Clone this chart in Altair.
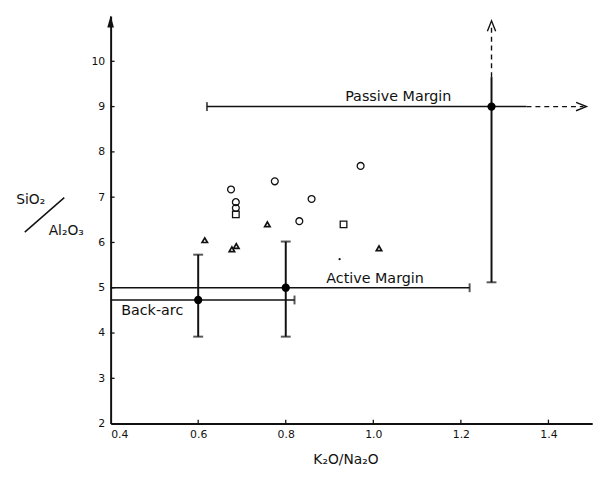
import altair as alt
import pandas as pd

# ---- data ----
circ_x = [0.675, 0.686, 0.686, 0.775, 0.859, 0.971, 0.831]
circ_y = [7.17, 6.89, 6.76, 7.35, 6.96, 7.69, 6.47]
sq_x = [0.686, 0.932]
sq_y = [6.62, 6.40]
tri_x = [0.615, 0.677, 0.687, 0.758, 1.013]
tri_y = [6.05, 5.85, 5.92, 6.40, 5.87]
dot_x = [0.923]
dot_y = [5.63]

# error-bar groups: Back-arc, Active Margin, Passive Margin
grp_name = ["Back-arc", "Active Margin", "Passive Margin"]
grp_x = [0.60, 0.80, 1.27]
grp_y = [4.73, 5.00, 9.00]
grp_ylo = [3.92, 3.92, 5.12]
grp_yhi = [5.73, 6.02, 9.65]
grp_xlo = [0.40, 0.40, 0.62]
grp_xhi = [0.82, 1.22, 1.35]

# horizontal-type caps (ends of vertical bars)
hcap_x = [0.60, 0.60, 0.80, 0.80, 1.27]
hcap_y = [5.73, 3.92, 6.02, 3.92, 5.12]
# vertical-type caps (ends of horizontal bars)
vcap_x = [0.82, 1.22, 0.62]
vcap_y = [4.73, 5.00, 9.00]

# passive margin dashed extensions
dash_h = {"x": [1.35], "x2": [1.48], "y": [9.0]}
dash_v = {"x": [1.27], "y": [9.65], "y2": [10.8]}
arrow_right = {"x": [1.475], "y": [9.0]}
arrow_up = {"x": [1.27], "y": [10.78]}
axis_arrow = {"x": [0.4], "y": [10.88]}

lab_text = ["Passive Margin", "Active Margin", "Back-arc"]
lab_x = [1.057, 1.004, 0.495]
lab_y = [9.22, 5.20, 4.49]

x_ticks = [0.4, 0.6, 0.8, 1.0, 1.2, 1.4]
y_ticks = [2, 3, 4, 5, 6, 7, 8, 9, 10]

FONT = "DejaVu Sans"
INK = "#111111"

xscale = alt.Scale(domain=[0.4, 1.5], nice=False, zero=False)
yscale = alt.Scale(domain=[2, 11], nice=False, zero=False)

xaxis = alt.Axis(values=x_ticks, format=".1f", grid=False, tickSize=0,
                 labelPadding=5, labelFont=FONT, labelFontSize=11, labelColor=INK,
                 domainColor=INK, domainWidth=2, title="K₂O/Na₂O",
                 titleFont=FONT, titleFontSize=14, titleFontWeight="normal",
                 titleColor=INK, titlePadding=13, titleX=238)
yaxis = alt.Axis(values=y_ticks, format="d", grid=False, tickSize=0,
                 labelPadding=6, labelFont=FONT, labelFontSize=11, labelColor=INK,
                 domainColor=INK, domainWidth=2, title=None)


def X(f):
    return alt.X(f, type="quantitative", scale=xscale, axis=xaxis)


def Y(f):
    return alt.Y(f, type="quantitative", scale=yscale, axis=yaxis)


groups = pd.DataFrame({"name": grp_name, "x": grp_x, "y": grp_y, "ylo": grp_ylo,
                       "yhi": grp_yhi, "xlo": grp_xlo, "xhi": grp_xhi})

base_rule = alt.Chart(pd.DataFrame({"x": [0.4], "y": [2]})).mark_point(opacity=0).encode(x=X("x"), y=Y("y"))

vbars = alt.Chart(groups).mark_rule(color=INK, strokeWidth=2).encode(
    x=X("x"), y=Y("ylo"), y2="yhi")
hbars = alt.Chart(groups).mark_rule(color=INK, strokeWidth=1.5).encode(
    x=X("xlo"), x2="xhi", y=Y("y"))
hcaps = alt.Chart(pd.DataFrame({"x": hcap_x, "y": hcap_y})).mark_tick(
    orient="horizontal", color=INK, thickness=2, size=10).encode(x=X("x"), y=Y("y"))
vcaps = alt.Chart(pd.DataFrame({"x": vcap_x, "y": vcap_y})).mark_tick(
    orient="vertical", color=INK, thickness=2, size=9).encode(x=X("x"), y=Y("y"))
centers = alt.Chart(groups).mark_point(filled=True, color="black", size=70, opacity=1).encode(
    x=X("x"), y=Y("y"))

dh = alt.Chart(pd.DataFrame(dash_h)).mark_rule(color=INK, strokeWidth=1.4, strokeDash=[5, 4]).encode(
    x=X("x"), x2="x2", y=Y("y"))
dv = alt.Chart(pd.DataFrame(dash_v)).mark_rule(color=INK, strokeWidth=1.4, strokeDash=[5, 4]).encode(
    x=X("x"), y=Y("y"), y2="y2")
ar = alt.Chart(pd.DataFrame(arrow_right)).mark_point(
    shape="M-1,-0.8L1,0L-1,0.8", filled=False, color=INK, strokeWidth=1.4, size=110, opacity=1).encode(
    x=X("x"), y=Y("y"))
au = alt.Chart(pd.DataFrame(arrow_up)).mark_point(
    shape="M-0.8,1L0,-1L0.8,1", filled=False, color=INK, strokeWidth=1.4, size=110, opacity=1).encode(
    x=X("x"), y=Y("y"))
aa = alt.Chart(pd.DataFrame(axis_arrow)).mark_point(
    shape="M0,-1L0.55,1L-0.55,1Z", filled=True, color=INK, size=150, opacity=1).encode(
    x=X("x"), y=Y("y"))

circ = alt.Chart(pd.DataFrame({"x": circ_x, "y": circ_y})).mark_point(
    shape="circle", filled=False, color=INK, strokeWidth=1.3, size=48, opacity=1).encode(x=X("x"), y=Y("y"))
sq = alt.Chart(pd.DataFrame({"x": sq_x, "y": sq_y})).mark_point(
    shape="square", filled=False, color=INK, strokeWidth=1.3, size=45, opacity=1).encode(x=X("x"), y=Y("y"))
tri = alt.Chart(pd.DataFrame({"x": tri_x, "y": tri_y})).mark_point(
    shape="triangle-up", filled=False, color=INK, strokeWidth=1.7, size=30, opacity=1).encode(x=X("x"), y=Y("y"))
dot = alt.Chart(pd.DataFrame({"x": dot_x, "y": dot_y})).mark_point(
    filled=True, color=INK, size=5, opacity=1).encode(x=X("x"), y=Y("y"))

labels = alt.Chart(pd.DataFrame({"t": lab_text, "x": lab_x, "y": lab_y})).mark_text(
    font=FONT, fontSize=14.5, color=INK, align="center", baseline="middle").encode(
    x=X("x"), y=Y("y"), text="t:N")

xtk = alt.Chart(pd.DataFrame({"x": x_ticks[1:]})).mark_rule(color=INK, strokeWidth=1.3).encode(
    x=X("x"), y=alt.value(413), y2=alt.value(409))
ytk = alt.Chart(pd.DataFrame({"y": y_ticks[1:]})).mark_rule(color=INK, strokeWidth=1.3).encode(
    y=Y("y"), x=alt.value(0), x2=alt.value(4))

# y-axis title drawn as stacked fraction with diagonal slash
yt1 = alt.Chart(pd.DataFrame({"t": ["SiO₂"]})).mark_text(
    font=FONT, fontSize=14, color=INK, align="center", baseline="middle").encode(
    x=alt.value(-81), y=alt.value(186), text="t:N")
yt2 = alt.Chart(pd.DataFrame({"t": ["Al₂O₃"]})).mark_text(
    font=FONT, fontSize=14, color=INK, align="center", baseline="middle").encode(
    x=alt.value(-45), y=alt.value(218), text="t:N")
slash = alt.Chart(pd.DataFrame({"a": [0]})).mark_rule(color=INK, strokeWidth=1.5).encode(
    x=alt.value(-87), x2=alt.value(-47), y=alt.value(219), y2=alt.value(184))

chart = alt.layer(
    base_rule, hbars, dh, vbars, dv, hcaps, vcaps, centers, ar, au, aa,
    circ, sq, tri, dot, labels, xtk, ytk, yt1, yt2, slash
).properties(
    width=488, height=413,
    autosize=alt.AutoSizeParams(type="none"),
    padding={"left": 104, "top": 5, "right": 16, "bottom": 52},
    background="white",
).configure_view(stroke=None)

chart.save("out.html", embed_options={"renderer": "svg", "actions": False})
